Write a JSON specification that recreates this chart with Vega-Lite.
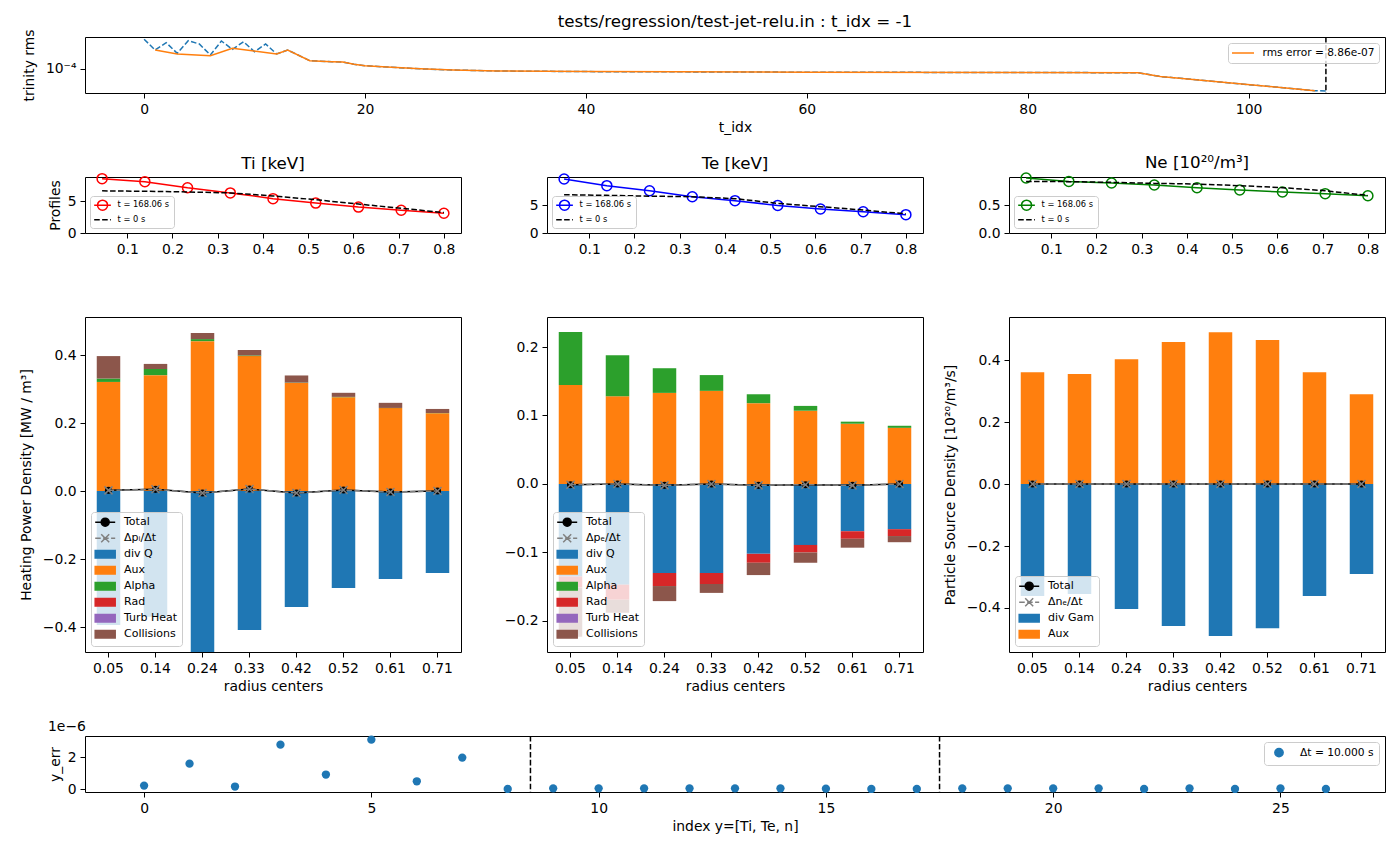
{
  "$schema": "https://vega.github.io/schema/vega-lite/v6.json",
  "background": "white",
  "padding": {"left": 18, "top": 13, "right": 5, "bottom": 5},
  "bounds": "flush",
  "spacing": 84,
  "resolve": {
    "scale": {"x": "independent", "y": "independent", "color": "independent"},
    "legend": {"color": "independent"}
  },
  "config": {
    "font": "DejaVu Sans",
    "view": {"stroke": "black", "strokeWidth": 1},
    "axis": {
      "domain": false, "grid": false,
      "tickColor": "black", "tickSize": 5, "tickWidth": 1,
      "labelColor": "black", "labelFontSize": 13.9, "labelPadding": 4,
      "labelFlush": false, "labelOverlap": false, "labelBound": false,
      "titleColor": "black", "titleFontSize": 13.9, "titleFontWeight": "normal", "titlePadding": 5
    },
    "title": {"fontSize": 16.7, "fontWeight": "normal", "color": "black"},
    "legend": {
      "fillColor": "rgba(255,255,255,0.8)", "strokeColor": "#cccccc", "strokeWidth": 1,
      "cornerRadius": 3, "labelColor": "black", "direction": "vertical", "symbolStrokeWidth": 1.5
    }
  },
  "datasets": {
    "rms": [
      {"s": "trinity", "t": 0, "v": 1.408e-4}, {"s": "trinity", "t": 1, "v": 1.245e-4},
      {"s": "trinity", "t": 2, "v": 1.354e-4}, {"s": "trinity", "t": 3, "v": 1.198e-4},
      {"s": "trinity", "t": 4, "v": 1.385e-4}, {"s": "trinity", "t": 5, "v": 1.334e-4},
      {"s": "trinity", "t": 6, "v": 1.175e-4}, {"s": "trinity", "t": 7, "v": 1.380e-4},
      {"s": "trinity", "t": 8, "v": 1.254e-4}, {"s": "trinity", "t": 9, "v": 1.369e-4},
      {"s": "trinity", "t": 10, "v": 1.220e-4}, {"s": "trinity", "t": 11, "v": 1.334e-4},
      {"s": "trinity", "t": 12, "v": 1.189e-4}, {"s": "trinity", "t": 13, "v": 1.245e-4},
      {"s": "trinity", "t": 15, "v": 1.100e-4}, {"s": "trinity", "t": 17, "v": 1.088e-4},
      {"s": "trinity", "t": 18, "v": 1.084e-4}, {"s": "trinity", "t": 19, "v": 1.056e-4},
      {"s": "trinity", "t": 20, "v": 1.039e-4}, {"s": "trinity", "t": 22, "v": 1.023e-4},
      {"s": "trinity", "t": 25, "v": 1.002e-4}, {"s": "trinity", "t": 28, "v": 9.886e-5},
      {"s": "trinity", "t": 32, "v": 9.772e-5}, {"s": "trinity", "t": 40, "v": 9.705e-5},
      {"s": "trinity", "t": 60, "v": 9.638e-5}, {"s": "trinity", "t": 90, "v": 9.583e-5},
      {"s": "trinity", "t": 92, "v": 9.173e-5}, {"s": "trinity", "t": 106, "v": 7.789e-5},
      {"s": "trinity", "t": 107, "v": 7.762e-5},
      {"s": "err", "t": 1, "v": 1.245e-4}, {"s": "err", "t": 3, "v": 1.189e-4},
      {"s": "err", "t": 6, "v": 1.166e-4}, {"s": "err", "t": 8, "v": 1.269e-4},
      {"s": "err", "t": 12, "v": 1.189e-4}, {"s": "err", "t": 13, "v": 1.245e-4},
      {"s": "err", "t": 15, "v": 1.100e-4}, {"s": "err", "t": 17, "v": 1.088e-4},
      {"s": "err", "t": 18, "v": 1.084e-4}, {"s": "err", "t": 19, "v": 1.056e-4},
      {"s": "err", "t": 20, "v": 1.039e-4}, {"s": "err", "t": 22, "v": 1.023e-4},
      {"s": "err", "t": 25, "v": 1.002e-4}, {"s": "err", "t": 28, "v": 9.886e-5},
      {"s": "err", "t": 32, "v": 9.772e-5}, {"s": "err", "t": 40, "v": 9.705e-5},
      {"s": "err", "t": 60, "v": 9.638e-5}, {"s": "err", "t": 90, "v": 9.583e-5},
      {"s": "err", "t": 92, "v": 9.173e-5}, {"s": "err", "t": 106, "v": 7.789e-5}
    ],
    "prof": [
      {"q": "Ti", "t": "t = 168.06 s", "r": 0.0444, "v": 8.61}, {"q": "Ti", "t": "t = 168.06 s", "r": 0.1389, "v": 8.13},
      {"q": "Ti", "t": "t = 168.06 s", "r": 0.2333, "v": 7.16}, {"q": "Ti", "t": "t = 168.06 s", "r": 0.3278, "v": 6.35},
      {"q": "Ti", "t": "t = 168.06 s", "r": 0.4222, "v": 5.44}, {"q": "Ti", "t": "t = 168.06 s", "r": 0.5167, "v": 4.74},
      {"q": "Ti", "t": "t = 168.06 s", "r": 0.6111, "v": 4.10}, {"q": "Ti", "t": "t = 168.06 s", "r": 0.7056, "v": 3.61},
      {"q": "Ti", "t": "t = 168.06 s", "r": 0.8, "v": 3.13},
      {"q": "Ti", "t": "t = 0 s", "r": 0.0444, "v": 6.68}, {"q": "Ti", "t": "t = 0 s", "r": 0.1389, "v": 6.61},
      {"q": "Ti", "t": "t = 0 s", "r": 0.2333, "v": 6.50}, {"q": "Ti", "t": "t = 0 s", "r": 0.3278, "v": 6.35},
      {"q": "Ti", "t": "t = 0 s", "r": 0.4222, "v": 5.87}, {"q": "Ti", "t": "t = 0 s", "r": 0.5167, "v": 5.27},
      {"q": "Ti", "t": "t = 0 s", "r": 0.6111, "v": 4.58}, {"q": "Ti", "t": "t = 0 s", "r": 0.7056, "v": 3.93},
      {"q": "Ti", "t": "t = 0 s", "r": 0.8, "v": 3.23},
      {"q": "Te", "t": "t = 168.06 s", "r": 0.0444, "v": 9.64}, {"q": "Te", "t": "t = 168.06 s", "r": 0.1389, "v": 8.45},
      {"q": "Te", "t": "t = 168.06 s", "r": 0.2333, "v": 7.55}, {"q": "Te", "t": "t = 168.06 s", "r": 0.3278, "v": 6.48},
      {"q": "Te", "t": "t = 168.06 s", "r": 0.4222, "v": 5.77}, {"q": "Te", "t": "t = 168.06 s", "r": 0.5167, "v": 4.93},
      {"q": "Te", "t": "t = 168.06 s", "r": 0.6111, "v": 4.29}, {"q": "Te", "t": "t = 168.06 s", "r": 0.7056, "v": 3.80},
      {"q": "Te", "t": "t = 168.06 s", "r": 0.8, "v": 3.27},
      {"q": "Te", "t": "t = 0 s", "r": 0.0444, "v": 6.84}, {"q": "Te", "t": "t = 0 s", "r": 0.1389, "v": 6.72},
      {"q": "Te", "t": "t = 0 s", "r": 0.2333, "v": 6.58}, {"q": "Te", "t": "t = 0 s", "r": 0.3278, "v": 6.48},
      {"q": "Te", "t": "t = 0 s", "r": 0.4222, "v": 6.13}, {"q": "Te", "t": "t = 0 s", "r": 0.5167, "v": 5.29},
      {"q": "Te", "t": "t = 0 s", "r": 0.6111, "v": 4.70}, {"q": "Te", "t": "t = 0 s", "r": 0.7056, "v": 4.10},
      {"q": "Te", "t": "t = 0 s", "r": 0.8, "v": 3.42},
      {"q": "Ne", "t": "t = 168.06 s", "r": 0.0444, "v": 0.982}, {"q": "Ne", "t": "t = 168.06 s", "r": 0.1389, "v": 0.921},
      {"q": "Ne", "t": "t = 168.06 s", "r": 0.2333, "v": 0.893}, {"q": "Ne", "t": "t = 168.06 s", "r": 0.3278, "v": 0.857},
      {"q": "Ne", "t": "t = 168.06 s", "r": 0.4222, "v": 0.809}, {"q": "Ne", "t": "t = 168.06 s", "r": 0.5167, "v": 0.768},
      {"q": "Ne", "t": "t = 168.06 s", "r": 0.6111, "v": 0.732}, {"q": "Ne", "t": "t = 168.06 s", "r": 0.7056, "v": 0.702},
      {"q": "Ne", "t": "t = 168.06 s", "r": 0.8, "v": 0.666},
      {"q": "Ne", "t": "t = 0 s", "r": 0.0444, "v": 0.921}, {"q": "Ne", "t": "t = 0 s", "r": 0.1389, "v": 0.917},
      {"q": "Ne", "t": "t = 0 s", "r": 0.2333, "v": 0.904}, {"q": "Ne", "t": "t = 0 s", "r": 0.3278, "v": 0.886},
      {"q": "Ne", "t": "t = 0 s", "r": 0.4222, "v": 0.874}, {"q": "Ne", "t": "t = 0 s", "r": 0.5167, "v": 0.845},
      {"q": "Ne", "t": "t = 0 s", "r": 0.6111, "v": 0.809}, {"q": "Ne", "t": "t = 0 s", "r": 0.7056, "v": 0.755},
      {"q": "Ne", "t": "t = 0 s", "r": 0.8, "v": 0.671}
    ],
    "heat_i": [
      {"r": "0.05", "c": "div Q", "k": 0, "v": -0.394}, {"r": "0.05", "c": "Aux", "k": 1, "v": 0.321}, {"r": "0.05", "c": "Alpha", "k": 2, "v": 0.010}, {"r": "0.05", "c": "Collisions", "k": 5, "v": 0.066},
      {"r": "0.14", "c": "div Q", "k": 0, "v": -0.370}, {"r": "0.14", "c": "Aux", "k": 1, "v": 0.341}, {"r": "0.14", "c": "Alpha", "k": 2, "v": 0.018}, {"r": "0.14", "c": "Collisions", "k": 5, "v": 0.015},
      {"r": "0.24", "c": "div Q", "k": 0, "v": -0.474}, {"r": "0.24", "c": "Aux", "k": 1, "v": 0.441}, {"r": "0.24", "c": "Alpha", "k": 2, "v": 0.006}, {"r": "0.24", "c": "Collisions", "k": 5, "v": 0.018},
      {"r": "0.33", "c": "div Q", "k": 0, "v": -0.409}, {"r": "0.33", "c": "Aux", "k": 1, "v": 0.397}, {"r": "0.33", "c": "Alpha", "k": 2, "v": 0.002}, {"r": "0.33", "c": "Collisions", "k": 5, "v": 0.016},
      {"r": "0.42", "c": "div Q", "k": 0, "v": -0.341}, {"r": "0.42", "c": "Aux", "k": 1, "v": 0.318}, {"r": "0.42", "c": "Alpha", "k": 2, "v": 0.001}, {"r": "0.42", "c": "Collisions", "k": 5, "v": 0.021},
      {"r": "0.52", "c": "div Q", "k": 0, "v": -0.285}, {"r": "0.52", "c": "Aux", "k": 1, "v": 0.276}, {"r": "0.52", "c": "Alpha", "k": 2, "v": 0.001}, {"r": "0.52", "c": "Collisions", "k": 5, "v": 0.012},
      {"r": "0.61", "c": "div Q", "k": 0, "v": -0.259}, {"r": "0.61", "c": "Aux", "k": 1, "v": 0.244}, {"r": "0.61", "c": "Alpha", "k": 2, "v": 0.0005}, {"r": "0.61", "c": "Collisions", "k": 5, "v": 0.015},
      {"r": "0.71", "c": "div Q", "k": 0, "v": -0.241}, {"r": "0.71", "c": "Aux", "k": 1, "v": 0.229}, {"r": "0.71", "c": "Alpha", "k": 2, "v": 0.0005}, {"r": "0.71", "c": "Collisions", "k": 5, "v": 0.012}
    ],
    "tot_i": [
      {"r": "0.05", "tot": 0.002, "d": 0.002}, {"r": "0.14", "tot": 0.005, "d": 0.005},
      {"r": "0.24", "tot": -0.006, "d": -0.006}, {"r": "0.33", "tot": 0.006, "d": 0.006},
      {"r": "0.42", "tot": -0.006, "d": -0.006}, {"r": "0.52", "tot": 0.003, "d": 0.003},
      {"r": "0.61", "tot": -0.003, "d": -0.003}, {"r": "0.71", "tot": 0.0, "d": 0.0}
    ],
    "heat_e": [
      {"r": "0.05", "c": "div Q", "k": 0, "v": -0.135}, {"r": "0.05", "c": "Aux", "k": 1, "v": 0.1445}, {"r": "0.05", "c": "Alpha", "k": 2, "v": 0.0775}, {"r": "0.05", "c": "Rad", "k": 3, "v": -0.016}, {"r": "0.05", "c": "Collisions", "k": 5, "v": -0.072},
      {"r": "0.14", "c": "div Q", "k": 0, "v": -0.147}, {"r": "0.14", "c": "Aux", "k": 1, "v": 0.128}, {"r": "0.14", "c": "Alpha", "k": 2, "v": 0.060}, {"r": "0.14", "c": "Rad", "k": 3, "v": -0.022}, {"r": "0.14", "c": "Collisions", "k": 5, "v": -0.019},
      {"r": "0.24", "c": "div Q", "k": 0, "v": -0.130}, {"r": "0.24", "c": "Aux", "k": 1, "v": 0.133}, {"r": "0.24", "c": "Alpha", "k": 2, "v": 0.036}, {"r": "0.24", "c": "Rad", "k": 3, "v": -0.019}, {"r": "0.24", "c": "Collisions", "k": 5, "v": -0.022},
      {"r": "0.33", "c": "div Q", "k": 0, "v": -0.130}, {"r": "0.33", "c": "Aux", "k": 1, "v": 0.136}, {"r": "0.33", "c": "Alpha", "k": 2, "v": 0.023}, {"r": "0.33", "c": "Rad", "k": 3, "v": -0.016}, {"r": "0.33", "c": "Collisions", "k": 5, "v": -0.013},
      {"r": "0.42", "c": "div Q", "k": 0, "v": -0.102}, {"r": "0.42", "c": "Aux", "k": 1, "v": 0.118}, {"r": "0.42", "c": "Alpha", "k": 2, "v": 0.013}, {"r": "0.42", "c": "Rad", "k": 3, "v": -0.013}, {"r": "0.42", "c": "Collisions", "k": 5, "v": -0.018},
      {"r": "0.52", "c": "div Q", "k": 0, "v": -0.089}, {"r": "0.52", "c": "Aux", "k": 1, "v": 0.107}, {"r": "0.52", "c": "Alpha", "k": 2, "v": 0.007}, {"r": "0.52", "c": "Rad", "k": 3, "v": -0.011}, {"r": "0.52", "c": "Collisions", "k": 5, "v": -0.015},
      {"r": "0.61", "c": "div Q", "k": 0, "v": -0.069}, {"r": "0.61", "c": "Aux", "k": 1, "v": 0.088}, {"r": "0.61", "c": "Alpha", "k": 2, "v": 0.003}, {"r": "0.61", "c": "Rad", "k": 3, "v": -0.011}, {"r": "0.61", "c": "Collisions", "k": 5, "v": -0.013},
      {"r": "0.71", "c": "div Q", "k": 0, "v": -0.066}, {"r": "0.71", "c": "Aux", "k": 1, "v": 0.082}, {"r": "0.71", "c": "Alpha", "k": 2, "v": 0.003}, {"r": "0.71", "c": "Rad", "k": 3, "v": -0.010}, {"r": "0.71", "c": "Collisions", "k": 5, "v": -0.009}
    ],
    "tot_e": [
      {"r": "0.05", "tot": -0.001, "d": -0.001}, {"r": "0.14", "tot": 0.0, "d": 0.0},
      {"r": "0.24", "tot": -0.002, "d": -0.002}, {"r": "0.33", "tot": 0.0, "d": 0.0},
      {"r": "0.42", "tot": -0.002, "d": -0.002}, {"r": "0.52", "tot": -0.001, "d": -0.001},
      {"r": "0.61", "tot": -0.002, "d": -0.002}, {"r": "0.71", "tot": 0.0, "d": 0.0}
    ],
    "part": [
      {"r": "0.05", "c": "div Gam", "k": 0, "v": -0.361}, {"r": "0.05", "c": "Aux", "k": 1, "v": 0.361},
      {"r": "0.14", "c": "div Gam", "k": 0, "v": -0.355}, {"r": "0.14", "c": "Aux", "k": 1, "v": 0.355},
      {"r": "0.24", "c": "div Gam", "k": 0, "v": -0.403}, {"r": "0.24", "c": "Aux", "k": 1, "v": 0.403},
      {"r": "0.33", "c": "div Gam", "k": 0, "v": -0.458}, {"r": "0.33", "c": "Aux", "k": 1, "v": 0.458},
      {"r": "0.42", "c": "div Gam", "k": 0, "v": -0.490}, {"r": "0.42", "c": "Aux", "k": 1, "v": 0.490},
      {"r": "0.52", "c": "div Gam", "k": 0, "v": -0.465}, {"r": "0.52", "c": "Aux", "k": 1, "v": 0.465},
      {"r": "0.61", "c": "div Gam", "k": 0, "v": -0.361}, {"r": "0.61", "c": "Aux", "k": 1, "v": 0.361},
      {"r": "0.71", "c": "div Gam", "k": 0, "v": -0.290}, {"r": "0.71", "c": "Aux", "k": 1, "v": 0.290}
    ],
    "tot_n": [
      {"r": "0.05", "tot": 0.0, "d": 0.0}, {"r": "0.14", "tot": 0.0, "d": 0.0},
      {"r": "0.24", "tot": 0.0, "d": 0.0}, {"r": "0.33", "tot": 0.0, "d": 0.0},
      {"r": "0.42", "tot": 0.0, "d": 0.0}, {"r": "0.52", "tot": 0.0, "d": 0.0},
      {"r": "0.61", "tot": 0.0, "d": 0.0}, {"r": "0.71", "tot": 0.0, "d": 0.0}
    ],
    "yerr": [
      {"i": 0, "e": 2.3e-7}, {"i": 1, "e": 1.6e-6}, {"i": 2, "e": 1.7e-7}, {"i": 3, "e": 2.79e-6},
      {"i": 4, "e": 9.2e-7}, {"i": 5, "e": 3.1e-6}, {"i": 6, "e": 5.0e-7}, {"i": 7, "e": 1.98e-6},
      {"i": 8, "e": 2e-8}, {"i": 9, "e": 6e-8}, {"i": 10, "e": 6e-8}, {"i": 11, "e": 6e-8},
      {"i": 12, "e": 6e-8}, {"i": 13, "e": 6e-8}, {"i": 14, "e": 6e-8}, {"i": 15, "e": 4e-8},
      {"i": 16, "e": 2e-8}, {"i": 17, "e": 2e-8}, {"i": 18, "e": 6e-8}, {"i": 19, "e": 6e-8},
      {"i": 20, "e": 6e-8}, {"i": 21, "e": 6e-8}, {"i": 22, "e": 2e-8}, {"i": 23, "e": 6e-8},
      {"i": 24, "e": 2e-8}, {"i": 25, "e": 6e-8}, {"i": 26, "e": 2e-8}
    ]
  },
  "vconcat": [
    {
      "width": 1300, "height": 56,
      "title": {"text": "tests/regression/test-jet-relu.in : t_idx = -1", "offset": -2},
      "data": {"name": "rms"},
      "layer": [
        {
          "transform": [{"filter": "datum.s === 'trinity'"}],
          "mark": {"type": "line", "color": "#1f77b4", "strokeWidth": 1.5, "strokeDash": [5.55, 2.4], "clip": true},
          "encoding": {
            "x": {"field": "t", "type": "quantitative", "scale": {"domain": [-5.35, 112.35], "nice": false, "zero": false},
                  "axis": {"values": [0, 20, 40, 60, 80, 100], "format": "d", "title": "t_idx"}},
            "y": {"field": "v", "type": "quantitative", "scale": {"type": "log", "domain": [7.5858e-5, 1.4454e-4], "nice": false},
                  "axis": {"values": [0.0001], "labelExpr": "'10⁻⁴'", "title": "trinity rms", "minExtent": 42, "maxExtent": 42, "titlePadding": 7}}
          }
        },
        {
          "transform": [{"filter": "datum.s === 'err'"}],
          "mark": {"type": "line", "strokeWidth": 1.5, "clip": true},
          "encoding": {
            "x": {"field": "t", "type": "quantitative"},
            "y": {"field": "v", "type": "quantitative"},
            "color": {
              "datum": "rms error = 8.86e-07", "type": "nominal",
              "scale": {"domain": ["rms error = 8.86e-07"], "range": ["#ff7f0e"]},
              "legend": {
                "title": null, "orient": "top-right", "offset": 6, "labelFontSize": 10.6,
                "symbolSize": 100, "labelOffset": 18.5, "padding": 4,
                "encode": {"symbols": {"update": {
                  "shape": {"value": "M-1.2,0H3.2"}, "stroke": {"value": "#ff7f0e"}, "fill": {"value": "transparent"},
                  "strokeWidth": {"value": 1.5}, "opacity": {"value": 1}
                }}}
              }
            }
          }
        },
        {
          "data": {"values": [{"t": 107}]},
          "mark": {"type": "rule", "color": "black", "strokeWidth": 1.5, "strokeDash": [5.55, 2.4]},
          "encoding": {"x": {"field": "t", "type": "quantitative"}}
        }
      ]
    },
    {
      "bounds": "flush",
      "spacing": 559,
      "resolve": {
        "scale": {"x": "independent", "y": "independent", "color": "independent"},
        "legend": {"color": "independent"}
      },
      "vconcat": [
        {
          "columns": 3,
          "bounds": "flush",
          "align": {"row": "each", "column": "all"},
          "spacing": {"row": 84, "column": 86},
          "resolve": {
            "scale": {"x": "independent", "y": "independent", "color": "independent"},
            "legend": {"color": "independent"}
          },
          "concat": [
            {
              "width": 376, "height": 56,
              "title": {"text": "Ti [keV]", "offset": -2},
              "data": {"name": "prof"},
              "transform": [{"filter": "datum.q === 'Ti'"}],
              "encoding": {
                "x": {"field": "r", "type": "quantitative", "scale": {"domain": [0.0066, 0.8378], "nice": false, "zero": false},
                      "axis": {"values": [0.1, 0.2, 0.3, 0.4, 0.5, 0.6, 0.7, 0.8], "format": ".1f", "title": null}},
                "y": {"field": "v", "type": "quantitative", "scale": {"domain": [0, 8.87], "nice": false},
                      "axis": {"values": [0, 5], "format": "d", "title": "Profiles", "minExtent": 19, "maxExtent": 19, "titlePadding": 4}},
                "color": {
                  "field": "t", "type": "nominal",
                  "scale": {"domain": ["t = 168.06 s", "t = 0 s"], "range": ["#ff0000", "black"]},
                  "legend": {
                    "title": null, "orient": "bottom-left", "offset": 5, "labelFontSize": 8.3,
                    "symbolSize": 72.25, "labelOffset": 13.4, "padding": 4.2, "rowPadding": 0.5,
                    "encode": {"symbols": {"update": {
                      "shape": {"signal": "datum.value === 't = 0 s' ? 'M-1.18,0H0.13M0.69,0H2M2.56,0H2.75' : 'M-1.18,0H2.75M-0.39,0A1.18,1.18 0 1,1 1.97,0A1.18,1.18 0 1,1 -0.39,0'"},
                      "stroke": {"signal": "datum.value === 't = 0 s' ? 'black' : '#ff0000'"},
                      "fill": {"value": "transparent"}, "strokeWidth": {"value": 1.5}, "opacity": {"value": 1}
                    }}}
                  }
                }
              },
              "layer": [
                {"transform": [{"filter": "datum.t === 't = 168.06 s'"}],
                 "mark": {"type": "line", "strokeWidth": 1.5, "point": {"filled": false, "size": 100, "strokeWidth": 1.5, "opacity": 1}}},
                {"transform": [{"filter": "datum.t === 't = 0 s'"}],
                 "mark": {"type": "line", "strokeWidth": 1.5, "strokeDash": [5.55, 2.4]}}
              ]
            },
            {
              "width": 376, "height": 56,
              "title": {"text": "Te [keV]", "offset": -2},
              "data": {"name": "prof"},
              "transform": [{"filter": "datum.q === 'Te'"}],
              "encoding": {
                "x": {"field": "r", "type": "quantitative", "scale": {"domain": [0.0066, 0.8378], "nice": false, "zero": false},
                      "axis": {"values": [0.1, 0.2, 0.3, 0.4, 0.5, 0.6, 0.7, 0.8], "format": ".1f", "title": null}},
                "y": {"field": "v", "type": "quantitative", "scale": {"domain": [0, 10.0], "nice": false},
                      "axis": {"values": [0, 5], "format": "d", "title": null}},
                "color": {
                  "field": "t", "type": "nominal",
                  "scale": {"domain": ["t = 168.06 s", "t = 0 s"], "range": ["#0000ff", "black"]},
                  "legend": {
                    "title": null, "orient": "bottom-left", "offset": 5, "labelFontSize": 8.3,
                    "symbolSize": 72.25, "labelOffset": 13.4, "padding": 4.2, "rowPadding": 0.5,
                    "encode": {"symbols": {"update": {
                      "shape": {"signal": "datum.value === 't = 0 s' ? 'M-1.18,0H0.13M0.69,0H2M2.56,0H2.75' : 'M-1.18,0H2.75M-0.39,0A1.18,1.18 0 1,1 1.97,0A1.18,1.18 0 1,1 -0.39,0'"},
                      "stroke": {"signal": "datum.value === 't = 0 s' ? 'black' : '#0000ff'"},
                      "fill": {"value": "transparent"}, "strokeWidth": {"value": 1.5}, "opacity": {"value": 1}
                    }}}
                  }
                }
              },
              "layer": [
                {"transform": [{"filter": "datum.t === 't = 168.06 s'"}],
                 "mark": {"type": "line", "strokeWidth": 1.5, "point": {"filled": false, "size": 100, "strokeWidth": 1.5, "opacity": 1}}},
                {"transform": [{"filter": "datum.t === 't = 0 s'"}],
                 "mark": {"type": "line", "strokeWidth": 1.5, "strokeDash": [5.55, 2.4]}}
              ]
            },
            {
              "width": 376, "height": 56,
              "title": {"text": "Ne [10²⁰/m³]", "offset": -2},
              "data": {"name": "prof"},
              "transform": [{"filter": "datum.q === 'Ne'"}],
              "encoding": {
                "x": {"field": "r", "type": "quantitative", "scale": {"domain": [0.0066, 0.8378], "nice": false, "zero": false},
                      "axis": {"values": [0.1, 0.2, 0.3, 0.4, 0.5, 0.6, 0.7, 0.8], "format": ".1f", "title": null}},
                "y": {"field": "v", "type": "quantitative", "scale": {"domain": [0, 1.0], "nice": false},
                      "axis": {"values": [0, 0.5], "format": ".1f", "title": null}},
                "color": {
                  "field": "t", "type": "nominal",
                  "scale": {"domain": ["t = 168.06 s", "t = 0 s"], "range": ["#008000", "black"]},
                  "legend": {
                    "title": null, "orient": "bottom-left", "offset": 5, "labelFontSize": 8.3,
                    "symbolSize": 72.25, "labelOffset": 13.4, "padding": 4.2, "rowPadding": 0.5,
                    "encode": {"symbols": {"update": {
                      "shape": {"signal": "datum.value === 't = 0 s' ? 'M-1.18,0H0.13M0.69,0H2M2.56,0H2.75' : 'M-1.18,0H2.75M-0.39,0A1.18,1.18 0 1,1 1.97,0A1.18,1.18 0 1,1 -0.39,0'"},
                      "stroke": {"signal": "datum.value === 't = 0 s' ? 'black' : '#008000'"},
                      "fill": {"value": "transparent"}, "strokeWidth": {"value": 1.5}, "opacity": {"value": 1}
                    }}}
                  }
                }
              },
              "layer": [
                {"transform": [{"filter": "datum.t === 't = 168.06 s'"}],
                 "mark": {"type": "line", "strokeWidth": 1.5, "point": {"filled": false, "size": 100, "strokeWidth": 1.5, "opacity": 1}}},
                {"transform": [{"filter": "datum.t === 't = 0 s'"}],
                 "mark": {"type": "line", "strokeWidth": 1.5, "strokeDash": [5.55, 2.4]}}
              ]
            },
            {
              "width": 376, "height": 335,
              "layer": [
                {
                  "data": {"name": "heat_i"},
                  "mark": {"type": "bar", "clip": true},
                  "encoding": {
                    "x": {"field": "r", "type": "nominal", "sort": null,
                          "scale": {"domain": ["0.05", "0.14", "0.24", "0.33", "0.42", "0.52", "0.61", "0.71"], "paddingInner": 0.5, "paddingOuter": 0.25},
                          "axis": {"title": "radius centers", "labelAngle": 0, "bandPosition": 0.5}},
                    "y": {"field": "v", "type": "quantitative", "stack": "zero",
                          "scale": {"domain": [-0.4735, 0.512], "nice": false, "zero": false},
                          "axis": {"values": [-0.4, -0.2, 0, 0.2, 0.4], "format": ".1f", "title": "Heating Power Density [MW / m³]", "minExtent": 44, "maxExtent": 44, "titlePadding": 8}},
                    "order": {"field": "k", "type": "quantitative"},
                    "color": {
                      "field": "c", "type": "nominal",
                      "scale": {"domain": ["Total", "Δpᵢ/Δt", "div Q", "Aux", "Alpha", "Rad", "Turb Heat", "Collisions"],
                                "range": ["black", "gray", "#1f77b4", "#ff7f0e", "#2ca02c", "#d62728", "#9467bd", "#8c564b"]},
                      "legend": {
                        "title": null, "orient": "bottom-left", "offset": 6, "labelFontSize": 11,
                        "symbolSize": 100, "labelOffset": 16.8, "padding": 4.2, "rowPadding": 2,
                        "encode": {"symbols": {"update": {
                          "shape": {"signal": "datum.value === 'Total' ? 'M-1.2,0H2.8M0,0A0.8,0.8 0 1,1 1.6,0A0.8,0.8 0 1,1 0,0' : datum.value === 'Δpᵢ/Δt' ? 'M-1.2,0H-0.09M0.39,0H1.5M1.98,0H2.8M0,-0.8L1.6,0.8M0,0.8L1.6,-0.8' : 'M-1.2,-0.75H2.8V0.75H-1.2Z'"},
                          "fill": {"signal": "datum.value === 'Total' ? 'black' : datum.value === 'Δpᵢ/Δt' ? 'transparent' : ['#1f77b4','#ff7f0e','#2ca02c','#d62728','#9467bd','#8c564b'][indexof(['div Q','Aux','Alpha','Rad','Turb Heat','Collisions'], datum.value)]"},
                          "stroke": {"signal": "datum.value === 'Total' ? 'black' : datum.value === 'Δpᵢ/Δt' ? 'gray' : 'transparent'"},
                          "strokeWidth": {"value": 1.5}, "opacity": {"value": 1}
                        }}}
                      }
                    }
                  }
                },
                {
                  "data": {"name": "tot_i"},
                  "mark": {"type": "line", "strokeWidth": 1.5},
                  "encoding": {"x": {"field": "r", "type": "nominal", "sort": null}, "y": {"field": "tot", "type": "quantitative"}, "color": {"datum": "Total", "type": "nominal"}}
                },
                {
                  "data": {"name": "tot_i"},
                  "mark": {"type": "point", "filled": true, "size": 50, "opacity": 1},
                  "encoding": {"x": {"field": "r", "type": "nominal", "sort": null}, "y": {"field": "tot", "type": "quantitative"}, "color": {"datum": "Total", "type": "nominal"}}
                },
                {
                  "data": {"name": "tot_i"},
                  "mark": {"type": "line", "strokeWidth": 1.5, "strokeDash": [5.55, 2.4]},
                  "encoding": {"x": {"field": "r", "type": "nominal", "sort": null}, "y": {"field": "d", "type": "quantitative"}, "color": {"datum": "Δpᵢ/Δt", "type": "nominal"}}
                },
                {
                  "data": {"name": "tot_i"},
                  "mark": {"type": "point", "shape": "M-1,-1L1,1M-1,1L1,-1", "filled": false, "size": 64, "strokeWidth": 1.5, "opacity": 1},
                  "encoding": {"x": {"field": "r", "type": "nominal", "sort": null}, "y": {"field": "d", "type": "quantitative"}, "color": {"datum": "Δpᵢ/Δt", "type": "nominal"}}
                }
              ]
            },
            {
              "width": 376, "height": 335,
              "layer": [
                {
                  "data": {"name": "heat_e"},
                  "mark": {"type": "bar", "clip": true},
                  "encoding": {
                    "x": {"field": "r", "type": "nominal", "sort": null,
                          "scale": {"domain": ["0.05", "0.14", "0.24", "0.33", "0.42", "0.52", "0.61", "0.71"], "paddingInner": 0.5, "paddingOuter": 0.25},
                          "axis": {"title": "radius centers", "labelAngle": 0, "bandPosition": 0.5}},
                    "y": {"field": "v", "type": "quantitative", "stack": "zero",
                          "scale": {"domain": [-0.2453, 0.2438], "nice": false, "zero": false},
                          "axis": {"values": [-0.2, -0.1, 0, 0.1, 0.2], "format": ".1f", "title": null}},
                    "order": {"field": "k", "type": "quantitative"},
                    "color": {
                      "field": "c", "type": "nominal",
                      "scale": {"domain": ["Total", "Δpₑ/Δt", "div Q", "Aux", "Alpha", "Rad", "Turb Heat", "Collisions"],
                                "range": ["black", "gray", "#1f77b4", "#ff7f0e", "#2ca02c", "#d62728", "#9467bd", "#8c564b"]},
                      "legend": {
                        "title": null, "orient": "bottom-left", "offset": 6, "labelFontSize": 11,
                        "symbolSize": 100, "labelOffset": 16.8, "padding": 4.2, "rowPadding": 2,
                        "encode": {"symbols": {"update": {
                          "shape": {"signal": "datum.value === 'Total' ? 'M-1.2,0H2.8M0,0A0.8,0.8 0 1,1 1.6,0A0.8,0.8 0 1,1 0,0' : datum.value === 'Δpₑ/Δt' ? 'M-1.2,0H-0.09M0.39,0H1.5M1.98,0H2.8M0,-0.8L1.6,0.8M0,0.8L1.6,-0.8' : 'M-1.2,-0.75H2.8V0.75H-1.2Z'"},
                          "fill": {"signal": "datum.value === 'Total' ? 'black' : datum.value === 'Δpₑ/Δt' ? 'transparent' : ['#1f77b4','#ff7f0e','#2ca02c','#d62728','#9467bd','#8c564b'][indexof(['div Q','Aux','Alpha','Rad','Turb Heat','Collisions'], datum.value)]"},
                          "stroke": {"signal": "datum.value === 'Total' ? 'black' : datum.value === 'Δpₑ/Δt' ? 'gray' : 'transparent'"},
                          "strokeWidth": {"value": 1.5}, "opacity": {"value": 1}
                        }}}
                      }
                    }
                  }
                },
                {
                  "data": {"name": "tot_e"},
                  "mark": {"type": "line", "strokeWidth": 1.5},
                  "encoding": {"x": {"field": "r", "type": "nominal", "sort": null}, "y": {"field": "tot", "type": "quantitative"}, "color": {"datum": "Total", "type": "nominal"}}
                },
                {
                  "data": {"name": "tot_e"},
                  "mark": {"type": "point", "filled": true, "size": 50, "opacity": 1},
                  "encoding": {"x": {"field": "r", "type": "nominal", "sort": null}, "y": {"field": "tot", "type": "quantitative"}, "color": {"datum": "Total", "type": "nominal"}}
                },
                {
                  "data": {"name": "tot_e"},
                  "mark": {"type": "line", "strokeWidth": 1.5, "strokeDash": [5.55, 2.4]},
                  "encoding": {"x": {"field": "r", "type": "nominal", "sort": null}, "y": {"field": "d", "type": "quantitative"}, "color": {"datum": "Δpₑ/Δt", "type": "nominal"}}
                },
                {
                  "data": {"name": "tot_e"},
                  "mark": {"type": "point", "shape": "M-1,-1L1,1M-1,1L1,-1", "filled": false, "size": 64, "strokeWidth": 1.5, "opacity": 1},
                  "encoding": {"x": {"field": "r", "type": "nominal", "sort": null}, "y": {"field": "d", "type": "quantitative"}, "color": {"datum": "Δpₑ/Δt", "type": "nominal"}}
                }
              ]
            },
            {
              "width": 376, "height": 335,
              "layer": [
                {
                  "data": {"name": "part"},
                  "mark": {"type": "bar", "clip": true},
                  "encoding": {
                    "x": {"field": "r", "type": "nominal", "sort": null,
                          "scale": {"domain": ["0.05", "0.14", "0.24", "0.33", "0.42", "0.52", "0.61", "0.71"], "paddingInner": 0.5, "paddingOuter": 0.25},
                          "axis": {"title": "radius centers", "labelAngle": 0, "bandPosition": 0.5}},
                    "y": {"field": "v", "type": "quantitative", "stack": "zero",
                          "scale": {"domain": [-0.542, 0.539], "nice": false, "zero": false},
                          "axis": {"values": [-0.4, -0.2, 0, 0.2, 0.4], "format": ".1f", "title": "Particle Source Density [10²⁰/m³/s]", "minExtent": 44, "maxExtent": 44, "titlePadding": 8}},
                    "order": {"field": "k", "type": "quantitative"},
                    "color": {
                      "field": "c", "type": "nominal",
                      "scale": {"domain": ["Total", "Δnₑ/Δt", "div Gam", "Aux"],
                                "range": ["black", "gray", "#1f77b4", "#ff7f0e"]},
                      "legend": {
                        "title": null, "orient": "bottom-left", "offset": 6, "labelFontSize": 11,
                        "symbolSize": 100, "labelOffset": 16.8, "padding": 4.2, "rowPadding": 2,
                        "encode": {"symbols": {"update": {
                          "shape": {"signal": "datum.value === 'Total' ? 'M-1.2,0H2.8M0,0A0.8,0.8 0 1,1 1.6,0A0.8,0.8 0 1,1 0,0' : datum.value === 'Δnₑ/Δt' ? 'M-1.2,0H-0.09M0.39,0H1.5M1.98,0H2.8M0,-0.8L1.6,0.8M0,0.8L1.6,-0.8' : 'M-1.2,-0.75H2.8V0.75H-1.2Z'"},
                          "fill": {"signal": "datum.value === 'Total' ? 'black' : datum.value === 'Δnₑ/Δt' ? 'transparent' : datum.value === 'Aux' ? '#ff7f0e' : '#1f77b4'"},
                          "stroke": {"signal": "datum.value === 'Total' ? 'black' : datum.value === 'Δnₑ/Δt' ? 'gray' : 'transparent'"},
                          "strokeWidth": {"value": 1.5}, "opacity": {"value": 1}
                        }}}
                      }
                    }
                  }
                },
                {
                  "data": {"name": "tot_n"},
                  "mark": {"type": "line", "strokeWidth": 1.5},
                  "encoding": {"x": {"field": "r", "type": "nominal", "sort": null}, "y": {"field": "tot", "type": "quantitative"}, "color": {"datum": "Total", "type": "nominal"}}
                },
                {
                  "data": {"name": "tot_n"},
                  "mark": {"type": "point", "filled": true, "size": 50, "opacity": 1},
                  "encoding": {"x": {"field": "r", "type": "nominal", "sort": null}, "y": {"field": "tot", "type": "quantitative"}, "color": {"datum": "Total", "type": "nominal"}}
                },
                {
                  "data": {"name": "tot_n"},
                  "mark": {"type": "line", "strokeWidth": 1.5, "strokeDash": [5.55, 2.4]},
                  "encoding": {"x": {"field": "r", "type": "nominal", "sort": null}, "y": {"field": "d", "type": "quantitative"}, "color": {"datum": "Δnₑ/Δt", "type": "nominal"}}
                },
                {
                  "data": {"name": "tot_n"},
                  "mark": {"type": "point", "shape": "M-1,-1L1,1M-1,1L1,-1", "filled": false, "size": 64, "strokeWidth": 1.5, "opacity": 1},
                  "encoding": {"x": {"field": "r", "type": "nominal", "sort": null}, "y": {"field": "d", "type": "quantitative"}, "color": {"datum": "Δnₑ/Δt", "type": "nominal"}}
                }
              ]
            }
          ]
        },
        {
          "width": 1300, "height": 56,
          "title": {"text": "1e−6", "anchor": "start", "fontSize": 13.9, "offset": 1},
          "layer": [
            {
              "data": {"name": "yerr"},
              "mark": {"type": "point", "filled": true, "size": 69, "opacity": 1, "color": "#1f77b4"},
              "encoding": {
                "x": {"field": "i", "type": "quantitative", "scale": {"domain": [-1.3, 27.3], "nice": false, "zero": false},
                      "axis": {"values": [0, 5, 10, 15, 20, 25], "format": "d", "title": "index y=[Ti, Te, n]"}},
                "y": {"field": "e", "type": "quantitative", "scale": {"domain": [-1.7e-7, 3.33e-6], "nice": false, "zero": false},
                      "axis": {"values": [0, 2e-6], "labelExpr": "format(datum.value * 1e6, '.0f')", "title": "y_err", "minExtent": 19, "maxExtent": 19, "titlePadding": 4}}
              }
            },
            {
              "data": {"name": "yerr"},
              "mark": {"type": "line", "strokeOpacity": 0},
              "encoding": {
                "x": {"field": "i", "type": "quantitative"},
                "y": {"field": "e", "type": "quantitative"},
                "color": {
                  "datum": "Δt = 10.000 s", "type": "nominal",
                  "scale": {"domain": ["Δt = 10.000 s"], "range": ["#1f77b4"]},
                  "legend": {
                    "title": null, "orient": "top-right", "offset": 6, "labelFontSize": 10.7,
                    "symbolSize": 100, "labelOffset": 19.4, "padding": 4.6,
                    "encode": {"symbols": {"update": {
                      "shape": {"value": "M0.05,0A0.83,0.83 0 1,1 1.71,0A0.83,0.83 0 1,1 0.05,0"},
                      "fill": {"value": "#1f77b4"}, "stroke": {"value": "transparent"},
                      "strokeWidth": {"value": 1.5}, "opacity": {"value": 1}, "fillOpacity": {"value": 1}
                    }}}
                  }
                }
              }
            },
            {
              "data": {"values": [{"b": 8.5}, {"b": 17.5}]},
              "mark": {"type": "rule", "color": "black", "strokeWidth": 1.5, "strokeDash": [5.55, 2.4]},
              "encoding": {"x": {"field": "b", "type": "quantitative"}}
            }
          ]
        }
      ]
    }
  ]
}
